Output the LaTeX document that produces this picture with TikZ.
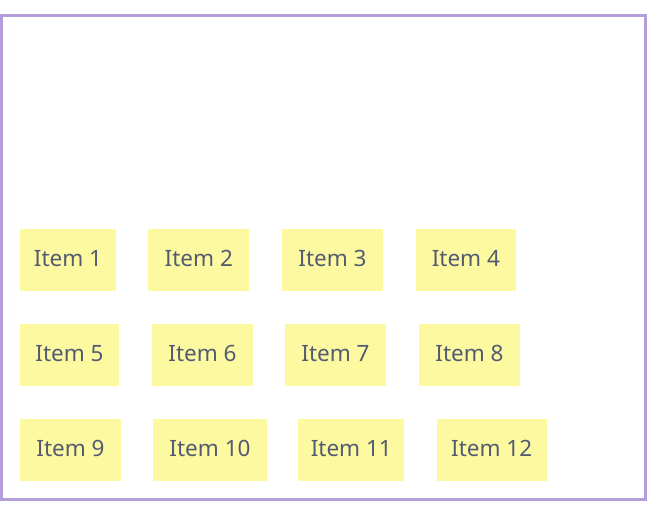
\documentclass[tikz,border=0pt]{standalone}
\usepackage{fontspec}
\setmainfont{Noto Sans}
\definecolor{framepurple}{HTML}{B39DDB}
\definecolor{noteyellow}{HTML}{FCF9A0}
\definecolor{notetext}{HTML}{535B72}
\tikzset{
  item/.style={fill=noteyellow,text=notetext,inner sep=0pt,minimum height=62,
    text depth=4,font=\fontsize{22.5}{26}\selectfont},
}
\begin{document}
\begin{tikzpicture}[x=1pt,y=-1pt]
\useasboundingbox (0,0) rectangle (664,524);
\draw[framepurple,line width=3] (1.5,15.5) rectangle (645,499.5);
\node(i1) at (68,260)[item,minimum width=96]        {Item 1};
\node(i2) at (198.8,260)[item,minimum width=101]    {Item 2};
\node(i3) at (332.5,260)[item,minimum width=101.6]  {Item 3};
\node(i4) at (465.9,260)[item,minimum width=100.3]  {Item 4};
\node(i5) at (69.5,355)[item,minimum width=99]      {Item 5};
\node(i6) at (202.5,355)[item,minimum width=101]    {Item 6};
\node(i7) at (335.5,355)[item,minimum width=101]    {Item 7};
\node(i8) at (469.5,355)[item,minimum width=101]    {Item 8};
\node(i9) at (70.5,450)[item,minimum width=101.7]   {Item 9};
\node(i10) at (210,450)[item,minimum width=113.4]   {Item 10};
\node(i11) at (351.3,450)[item,minimum width=106]   {Item 11};
\node(i12) at (491.7,450)[item,minimum width=110]   {Item 12};
\end{tikzpicture}
\end{document}
